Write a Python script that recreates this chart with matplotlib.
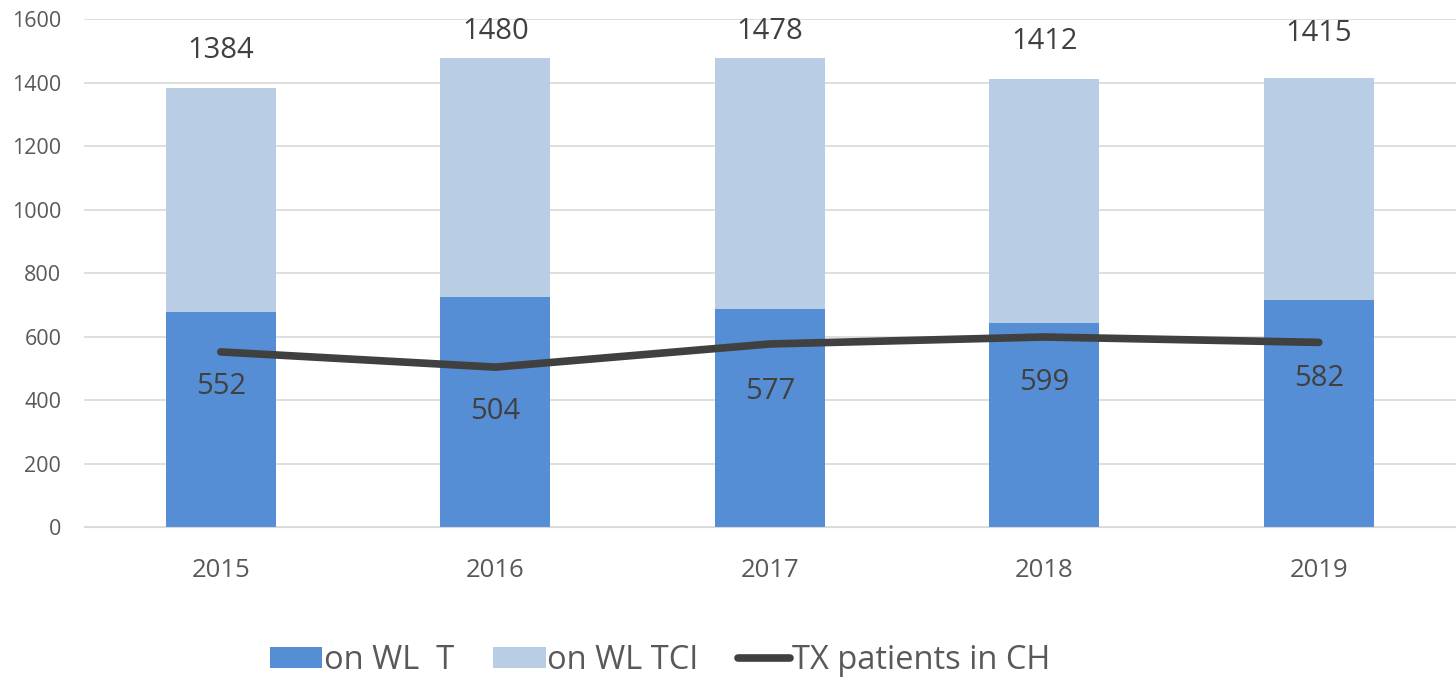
import matplotlib.pyplot as plt
import numpy as np

plt.rcParams['font.family'] = ['Open Sans', 'DejaVu Sans']

years = ['2015', '2016', '2017', '2018', '2019']
totals = [1384, 1480, 1478, 1412, 1415]
on_wl_t = [678, 726, 688, 642, 716]
on_wl_tci = [t - a for t, a in zip(totals, on_wl_t)]
tx_patients = [552, 504, 577, 599, 582]

c_dark = '#558ed5'
c_light = '#b9cde5'
c_line = '#404040'
c_text = '#595959'

fig = plt.figure(figsize=(14.56, 6.78), dpi=100)
ax = fig.add_axes([0.0574, 0.2227, 0.9426, 0.7486])

x = np.arange(len(years))
ax.bar(x, on_wl_t, width=0.4, color=c_dark, label='on WL  T', zorder=2)
ax.bar(x, on_wl_tci, width=0.4, bottom=on_wl_t, color=c_light, label='on WL TCI', zorder=2)
ax.plot(x, tx_patients, color=c_line, linewidth=5.5, solid_capstyle='round',
        label='TX patients in CH', zorder=3)

# label offsets in points (excel puts them a bit unevenly)
top_off = [27, 19, 19, 27, 32]
low_off = [-25, -32, -34, -33, -26]
for i in range(len(years)):
    ax.annotate(str(totals[i]), (x[i], totals[i]), xytext=(0, top_off[i]), textcoords='offset points',
                ha='center', va='center', fontsize=21, color='#404040')
    ax.annotate(str(tx_patients[i]), (x[i], tx_patients[i]), xytext=(0, low_off[i]), textcoords='offset points',
                ha='center', va='center', fontsize=21, color='#404040', zorder=4)

ax.set_xlim(-0.5, 4.5)
ax.set_ylim(0, 1600)
ax.set_yticks(range(0, 1601, 200))
ax.set_xticks(x)
ax.set_xticklabels(years)
ax.tick_params(axis='y', length=0, labelsize=15.5, labelcolor=c_text, pad=16)
ax.tick_params(axis='x', length=0, labelsize=18.5, labelcolor=c_text, pad=22)
ax.grid(axis='y', color='#d9d9d9', linewidth=1.2, zorder=0)
ax.set_axisbelow(True)
for s in ax.spines.values():
    s.set_visible(False)
ax.spines['bottom'].set_visible(True)
ax.spines['bottom'].set_color('#d9d9d9')

h, l = ax.get_legend_handles_labels()
order = [1, 2, 0]
leg = ax.legend([h[i] for i in order], [l[i] for i in order],
                loc='center', bbox_to_anchor=(0.42, -0.263), ncol=3, frameon=False,
                fontsize=23.5, handlelength=1.6, handleheight=0.6, handletextpad=0.05,
                columnspacing=1.2)
for t in leg.get_texts():
    t.set_color(c_text)

fig.savefig('out.png', dpi=100)
